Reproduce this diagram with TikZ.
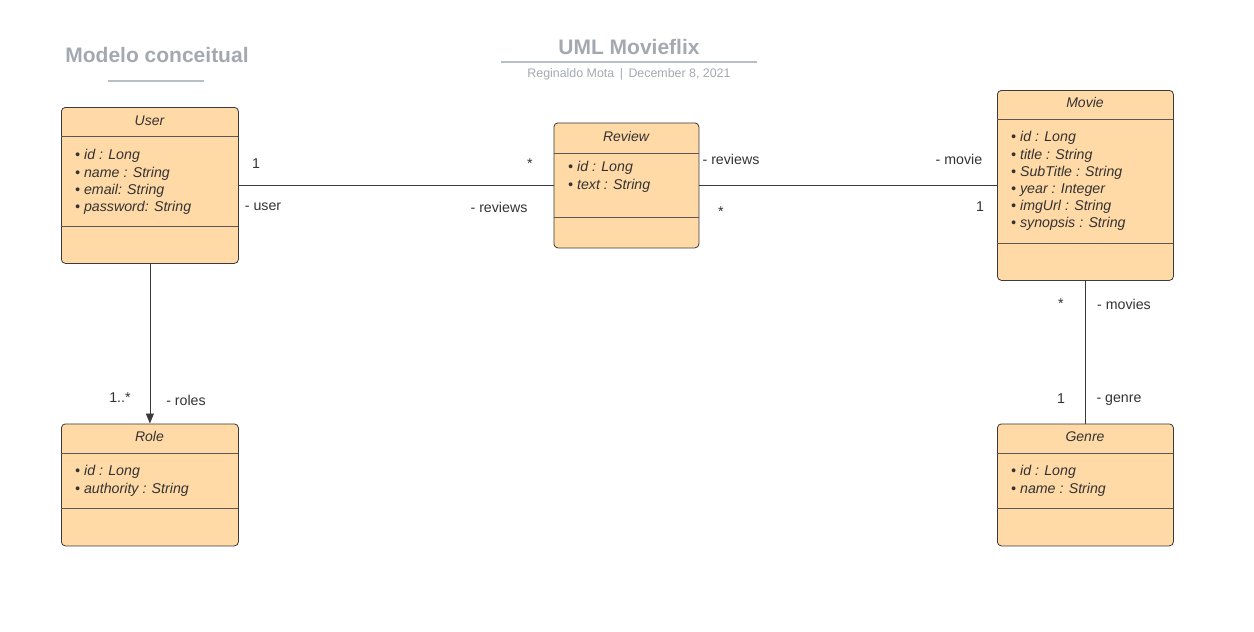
\documentclass[tikz,border=0pt]{standalone}
\usepackage{fontspec}
\setmainfont{Liberation Sans}
\usetikzlibrary{arrows.meta}
\definecolor{boxfill}{HTML}{FFD9A6}
\definecolor{boxline}{HTML}{3A3A3A}
\definecolor{txt}{HTML}{333333}
\definecolor{ttl}{HTML}{A4A8B0}
\definecolor{ttlline}{HTML}{B9BDC5}
\tikzset{
  classbox/.style={draw=boxline, fill=boxfill, line width=0.8pt, rounded corners=4pt, anchor=north west, inner sep=0pt},
  sepline/.style={draw=boxline!85, line width=0.8pt},
  classname/.style={font=\fontsize{14}{16}\selectfont\itshape, text=txt, anchor=center},
  attrs/.style={font=\fontsize{14.2}{17.1}\selectfont\itshape, text=txt, align=left, anchor=north west, inner sep=0pt},
  conn/.style={draw=boxline, line width=0.8pt},
  lbl/.style={font=\fontsize{14.2}{16}\selectfont, text=txt, anchor=center, inner sep=0pt},
}
\begin{document}
\begin{tikzpicture}[x=1pt,y=-1pt]
\useasboundingbox (0,0) rectangle (1254,632);
% titles
\node[font=\fontsize{21}{24}\selectfont\bfseries, text=ttl] (t1) at (157,55) {Modelo conceitual};
\draw[ttlline, line width=1.5pt] (108,81) -- (204,81);
\node[font=\fontsize{21}{24}\selectfont\bfseries, text=ttl] (t2) at (629,47) {UML Movieflix};
\draw[ttlline, line width=1.5pt] (501,62) -- (757,62);
\node[font=\fontsize{12.4}{14}\selectfont, text=ttl] (t3) at (629,74) {Reginaldo Mota \,|\, December 8, 2021};

% User
\node[classbox, minimum width=177pt, minimum height=156pt] (user) at (61,107) {};
\draw[sepline] (61,136) -- (238,136);
\draw[sepline] (61,226) -- (238,226);
\node[classname] (userT) at (149.5,120.5) {User};
\node[attrs] (userA) at (75,149.5) {• id : Long\\• name : String\\• email: String\\• password: String};

% Review
\node[classbox, minimum width=145pt, minimum height=125pt] (review) at (553.5,122.5) {};
\draw[sepline] (553.5,153) -- (698.5,153);
\node[classname] (reviewT) at (626,136.5) {Review};
\draw[sepline] (553.5,217) -- (698.5,217);
\node[attrs] (reviewA) at (568,161.5) {• id : Long\\• text : String};

% Movie
\node[classbox, minimum width=176pt, minimum height=190pt] (movie) at (997,90) {};
\draw[sepline] (997,119.5) -- (1173,119.5);
\draw[sepline] (997,243) -- (1173,243);
\node[classname] (movieT) at (1085,102.5) {Movie};
\node[attrs] (movieA) at (1011,131.5) {• id : Long\\• title : String\\• SubTitle : String\\• year : Integer\\• imgUrl : String\\• synopsis : String};

% Role
\node[classbox, minimum width=177pt, minimum height=122pt] (role) at (61,423.5) {};
\draw[sepline] (61,453) -- (238,453);
\draw[sepline] (61,508) -- (238,508);
\node[classname] (roleT) at (149.5,436.5) {Role};
\node[attrs] (roleA) at (75,465.5) {• id : Long\\• authority : String};

% Genre
\node[classbox, minimum width=176pt, minimum height=122pt] (genre) at (997,423.5) {};
\draw[sepline] (997,453) -- (1173,453);
\draw[sepline] (997,508) -- (1173,508);
\node[classname] (genreT) at (1085,436.5) {Genre};
\node[attrs] (genreA) at (1011,465.5) {• id : Long\\• name : String};

% connectors
\draw[conn] (user.east) -- (review.west);
\draw[conn] (review.east) -- (movie.west);
\draw[conn, -{Triangle[length=10pt,width=8pt]}] (user.south) -- (role.north);
\draw[conn] (movie.south) -- (genre.north);

% labels
\node[lbl] (l1) at (256,164) {1};
\node[lbl] (l2) at (530,164) {*};
\node[lbl] (l3) at (263,207) {- user};
\node[lbl] (l4) at (499,207) {- reviews};
\node[lbl] (l5) at (731,159) {- reviews};
\node[lbl] (l6) at (721,212) {*};
\node[lbl] (l7) at (959,159) {- movie};
\node[lbl] (l8) at (980,207) {1};
\node[lbl] (l9) at (1061,304) {*};
\node[lbl] (l10) at (1124,304) {- movies};
\node[lbl] (l11) at (1061,399) {1};
\node[lbl] (l12) at (1119,400) {- genre};
\node[lbl] (l13) at (120,398) {1..*};
\node[lbl] (l14) at (186,400) {- roles};
\end{tikzpicture}
\end{document}
